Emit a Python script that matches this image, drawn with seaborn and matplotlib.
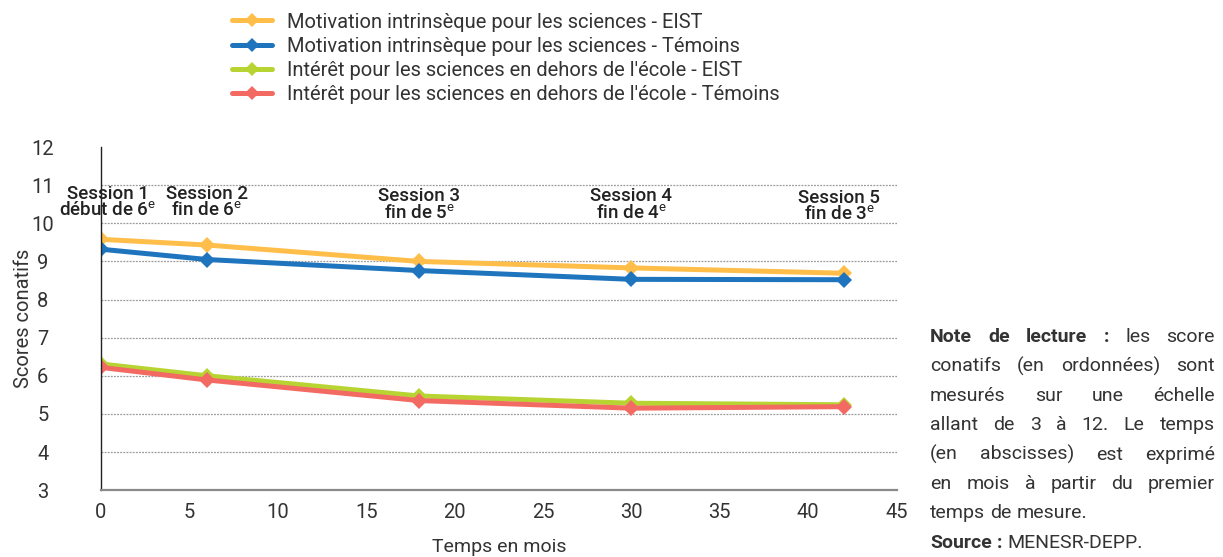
import pandas as pd
import seaborn as sns
import matplotlib.pyplot as plt
from matplotlib.lines import Line2D
from matplotlib.ticker import MultipleLocator

# data
months = [0, 6, 18, 30, 42]
motiv_eist = [9.58, 9.43, 9.00, 8.83, 8.69]
motiv_temoins = [9.32, 9.05, 8.76, 8.53, 8.52]
interet_eist = [6.31, 6.00, 5.47, 5.28, 5.24]
interet_temoins = [6.22, 5.89, 5.35, 5.15, 5.19]

series_names = [
    "Motivation intrinsèque pour les sciences - EIST",
    "Motivation intrinsèque pour les sciences - Témoins",
    "Intérêt pour les sciences en dehors de l'école - EIST",
    "Intérêt pour les sciences en dehors de l'école - Témoins",
]
colors = ["#FFBE4A", "#1F74BE", "#B8D432", "#F36A63"]

sessions = [
    "Session 1\ndébut de 6$^{\\mathrm{e}}$",
    "Session 2\nfin de 6$^{\\mathrm{e}}$",
    "Session 3\nfin de 5$^{\\mathrm{e}}$",
    "Session 4\nfin de 4$^{\\mathrm{e}}$",
    "Session 5\nfin de 3$^{\\mathrm{e}}$",
]

note_lines = [
    [("Note", True), ("de", True), ("lecture", True), (":", True), ("les", False), ("score", False)],
    [("conatifs", False), ("(en", False), ("ordonnées)", False), ("sont", False)],
    [("mesurés", False), ("sur", False), ("une", False), ("échelle", False)],
    [("allant", False), ("de", False), ("3", False), ("à", False), ("12.", False), ("Le", False), ("temps", False)],
    [("(en", False), ("abscisses)", False), ("est", False), ("exprimé", False)],
    [("en", False), ("mois", False), ("à", False), ("partir", False), ("du", False), ("premier", False)],
    [("temps", False), ("de", False), ("mesure.", False)],
    [("Source", True), (":", True), ("MENESR-DEPP.", False)],
]

df = pd.DataFrame({
    "mois": months * 4,
    "score": motiv_eist + motiv_temoins + interet_eist + interet_temoins,
    "serie": [n for n in series_names for _ in months],
})

sns.set_style("white")
plt.rcParams["font.family"] = ["Roboto", "DejaVu Sans"]
plt.rcParams["mathtext.fontset"] = "custom"
plt.rcParams["mathtext.rm"] = "Roboto"
txt = "#333333"

fig = plt.figure(figsize=(12.23, 5.57), dpi=100)
ax = fig.add_axes([0.0826, 0.120, 0.6505, 0.616])

sns.lineplot(data=df, x="mois", y="score", hue="serie", palette=colors,
             hue_order=series_names, marker="D", markersize=8, markeredgewidth=0,
             linewidth=3.6, legend=False, ax=ax)

ax.set_xlim(0, 45)
ax.set_ylim(3, 12)
ax.xaxis.set_major_locator(MultipleLocator(5))
ax.xaxis.set_minor_locator(MultipleLocator(1))
ax.set_yticks(range(3, 13))
# dotted grid lines from 4 to 11 only
for gy in range(4, 12):
    ax.axhline(gy, linestyle=(0, (1.5, 1)), color="#9a9a9a", linewidth=0.9, zorder=0)

for s in ["top", "right"]:
    ax.spines[s].set_visible(False)
ax.spines["bottom"].set_color("#8a8a8a")
ax.spines["bottom"].set_linewidth(1.6)
ax.spines["left"].set_color("#222222")
ax.spines["left"].set_linewidth(1.0)

ax.tick_params(axis="x", which="major", length=5, width=1.2, color="#777777",
               labelsize=14.5, labelcolor=txt, pad=4)
ax.tick_params(axis="x", which="minor", length=4, width=1.0, color="#777777")
ax.tick_params(axis="y", length=5, width=1.0, color="#222222", labelsize=14.5,
               labelcolor=txt, pad=37)
for lab in ax.get_yticklabels():
    lab.set_horizontalalignment("center")

ax.set_xlabel("Temps en mois", fontsize=14, color=txt, labelpad=12)
ax.set_ylabel("Scores conatifs", fontsize=14.5, color=txt)
ax.yaxis.set_label_coords(-0.086, 0.5)

# session annotations
sess_y = [10.55, 10.55, 10.48, 10.48, 10.44]
sess_dx = [5, 0, 0, 0, -3]
for t, lab, yy, dx in zip(months, sessions, sess_y, sess_dx):
    ax.annotate(lab, xy=(t, yy), xytext=(dx, 0), textcoords="offset points",
                ha="center", va="center", fontsize=13.5, color="#222222",
                fontweight="medium", linespacing=0.9, annotation_clip=False)

# legend
handles = [Line2D([0], [0], color=c, lw=3.6, marker="D", markersize=7, markeredgewidth=0)
           for c in colors]
fig.legend(handles, series_names, loc="upper left", bbox_to_anchor=(0.183, 0.992),
           frameon=False, fontsize=14.5, handlelength=2.0, handletextpad=0.75,
           labelspacing=0.26, labelcolor=txt, borderaxespad=0)

# reading note, justified
fig.canvas.draw()
rend = fig.canvas.get_renderer()
W, H = fig.bbox.width, fig.bbox.height
x0, x1 = 930, 1215
size = 14


def width_of(s, bold):
    t = fig.text(0, 0, s, fontsize=size, fontweight="bold" if bold else "normal")
    w = t.get_window_extent(rend).width
    t.remove()
    return w


space = width_of("n n", False) - width_of("nn", False)
for i, words in enumerate(note_lines):
    ybase = 342 + i * 29.4
    widths = [width_of(w, b) for w, b in words]
    justify = i < 6
    gap = (x1 - x0 - sum(widths)) / (len(words) - 1) if justify else space
    x = x0
    for (w, b), wd in zip(words, widths):
        fig.text(x / W, 1 - ybase / H, w, fontsize=size, color=txt,
                 fontweight="bold" if b else "normal", va="baseline")
        x += wd + gap

fig.savefig("out.png", dpi=100)
